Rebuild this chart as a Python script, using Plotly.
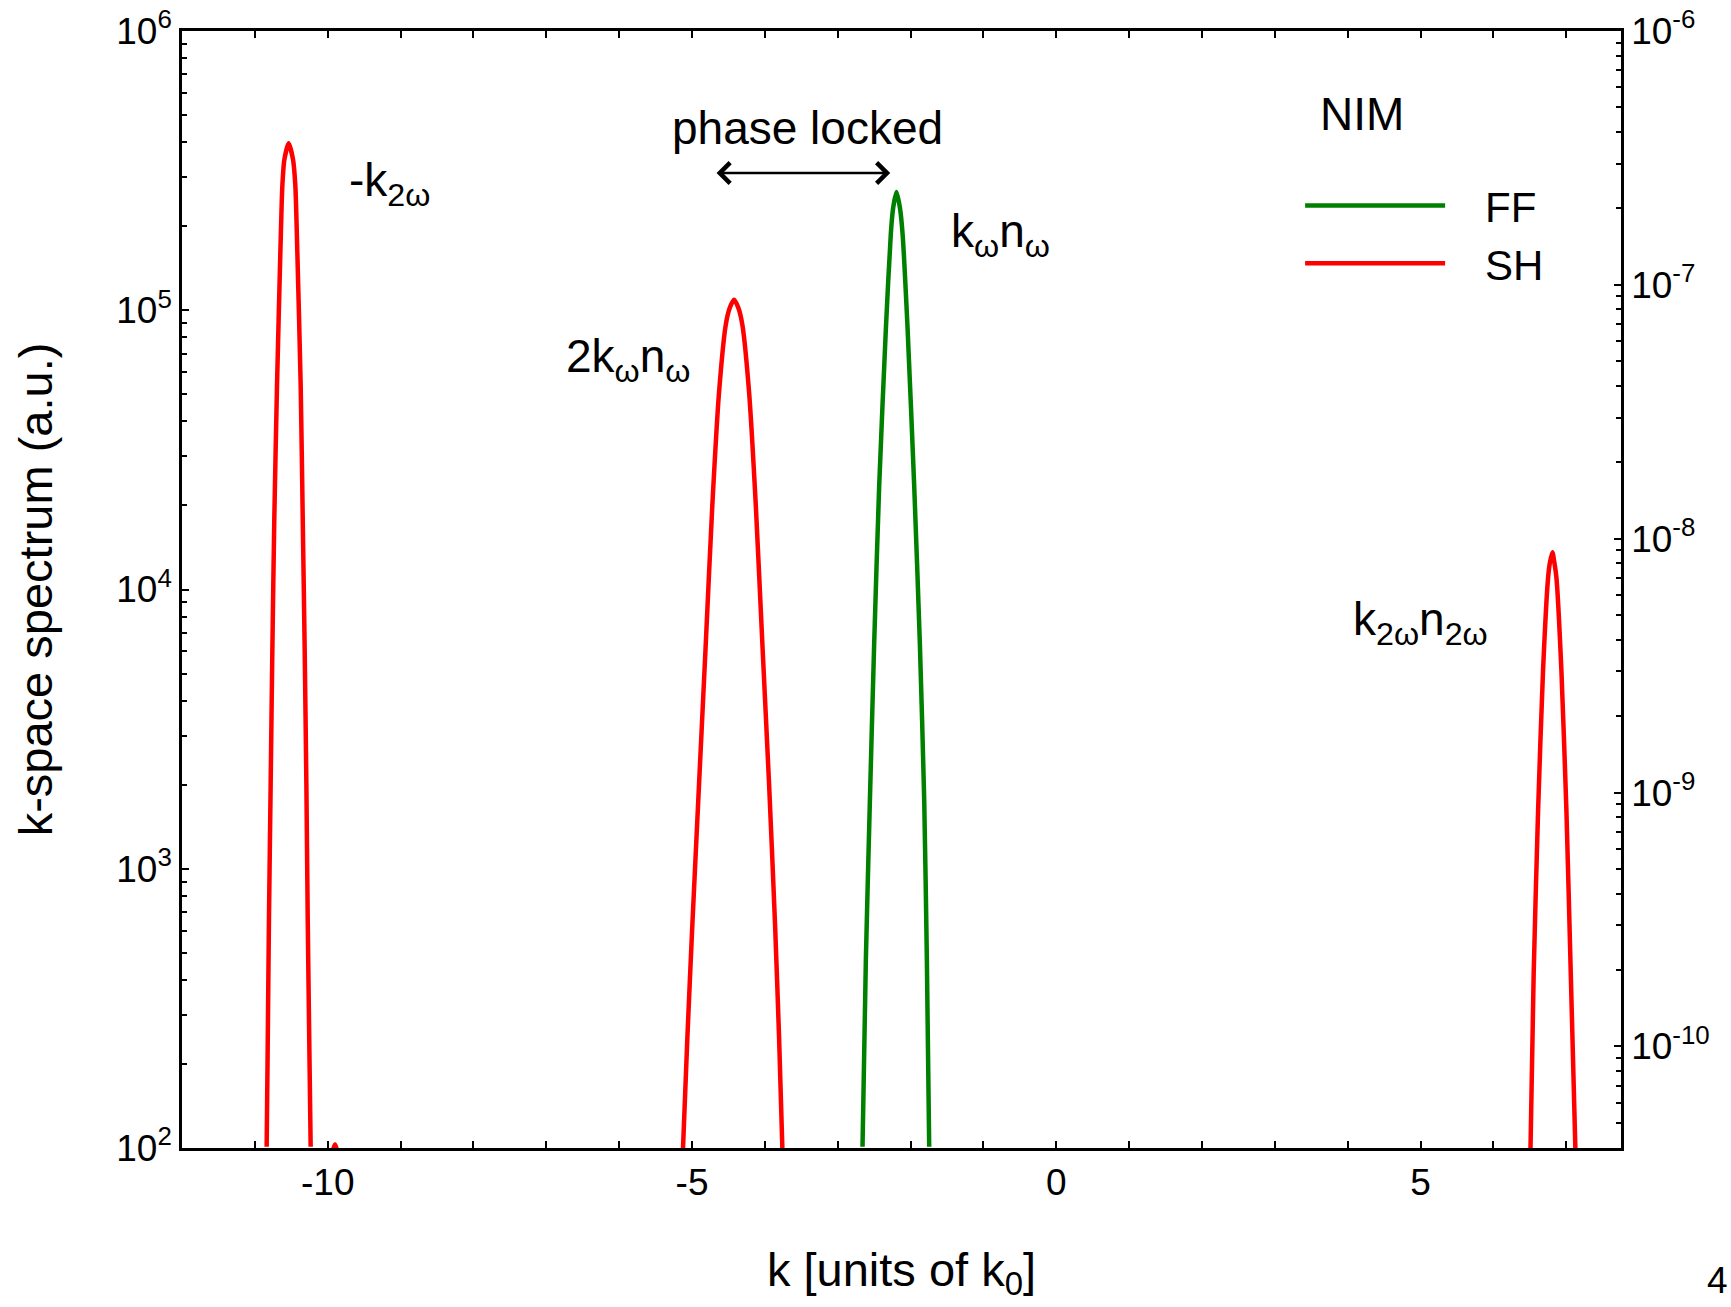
import plotly.graph_objects as go

FONT = "Liberation Sans, Arial, sans-serif"

# ---- data (k in units of k0, spectrum in a.u.) ----
# SH peak at -k_2w
sh1_k = [-10.838, -10.824, -10.806, -10.783, -10.760, -10.733, -10.696, -10.650, -10.623, -10.595,
         -10.536, -10.476, -10.444, -10.417, -10.371, -10.343, -10.316, -10.293, -10.275, -10.252, -10.234]
sh1_y = [101, 227, 678, 2020, 6040, 18000, 53800, 161000, 278000, 346000,
         396000, 346000, 278000, 161000, 53800, 18000, 6040, 2020, 678, 227, 101]
# tiny SH side lobe
sh1b_k = [-9.96, -9.90, -9.84]
sh1b_y = [90, 103, 90]
# SH peak at 2 k_w n_w
sh2_k = [-5.124, -5.064, -4.996, -4.904, -4.812, -4.721, -4.629, -4.537, -4.482,
         -4.423, -4.364, -4.309, -4.217, -4.125, -4.034, -3.942, -3.860, -3.805, -3.760]
sh2_y = [99.5, 248, 627, 2000, 6340, 20100, 50900, 88700, 102000,
         109000, 102000, 88700, 50900, 20100, 6340, 2000, 627, 248, 99.5]
# SH peak at k_2w n_2w
sh3_k = [6.507, 6.552, 6.612, 6.680, 6.749, 6.775, 6.809, 6.835, 6.864, 6.932, 7.001, 7.060, 7.125]
sh3_y = [96.8, 427, 1610, 5130, 11000, 12500, 13600, 12500, 11000, 5130, 1610, 427, 96.8]
# FF peak at k_w n_w
ff_k = [-2.660, -2.614, -2.559, -2.500, -2.431, -2.339, -2.271, -2.239,
        -2.194, -2.147, -2.111, -2.042, -1.951, -1.873, -1.813, -1.777, -1.745]
ff_y = [101, 474, 1750, 6410, 23600, 86500, 189000, 233000,
        265000, 233000, 189000, 86500, 23600, 6410, 1750, 474, 101]

left_ticks = [1e2, 1e3, 1e4, 1e5, 1e6]
left_labels = ["10<sup>2</sup>", "10<sup>3</sup>", "10<sup>4</sup>", "10<sup>5</sup>", "10<sup>6</sup>"]
right_ticks = [1e-10, 1e-9, 1e-8, 1e-7, 1e-6]
right_labels = ["10<sup>-10</sup>", "10<sup>-9</sup>", "10<sup>-8</sup>", "10<sup>-7</sup>", "10<sup>-6</sup>"]
x_ticks = [-10, -5, 0, 5]
x_labels = ["-10", "-5", "0", "5"]

sh_k = sh1_k + [None] + sh1b_k + [None] + sh2_k + [None] + sh3_k
sh_y = sh1_y + [None] + sh1b_y + [None] + sh2_y + [None] + sh3_y

NB = "\u00a0\u00a0\u00a0"

fig = go.Figure()
fig.add_trace(go.Scatter(x=ff_k, y=ff_y, mode="lines", name=NB + "FF",
                         line=dict(color="#008000", width=4.5, shape="spline", smoothing=0.6)))
fig.add_trace(go.Scatter(x=sh_k, y=sh_y, mode="lines", name=NB + "SH", connectgaps=False,
                         line=dict(color="#ff0000", width=4.5, shape="spline", smoothing=0.6)))
# carrier for the right-hand axis
fig.add_trace(go.Scatter(x=[None], y=[None], yaxis="y2", showlegend=False, hoverinfo="skip"))

minor_left = [m * 10 ** e for e in range(2, 6) for m in range(2, 10)]
minor_right = [m * 10.0 ** e for e in range(-11, -6) for m in range(2, 10) if m * 10.0 ** e >= 3.9e-11]

axis_common = dict(showline=True, linecolor="black", linewidth=2.5, showgrid=False, zeroline=False,
                   ticks="inside", ticklen=7, tickwidth=2, tickcolor="black", automargin=False)

fig.update_layout(
    width=1731, height=1307,
    margin=dict(l=182, r=110, t=31, b=159),
    plot_bgcolor="white", paper_bgcolor="white",
    font=dict(family=FONT, size=37, color="black"),
    xaxis=dict(range=[-12, 7.75], tickmode="array", tickvals=x_ticks, ticktext=x_labels,
               mirror="ticks",
               minor=dict(dtick=1, tick0=0, ticks="inside", ticklen=7, tickwidth=2, tickcolor="black"),
               title=dict(text="k [units of k<sub>0</sub>]", font=dict(size=47), standoff=51),
               **axis_common),
    yaxis=dict(type="log", range=[2, 6], tickmode="array", tickvals=left_ticks, ticktext=left_labels,
               minor=dict(tickmode="array", tickvals=minor_left, ticks="inside", ticklen=5,
                          tickwidth=2, tickcolor="black"),
               title=dict(text="k-space spectrum (a.u.)", font=dict(size=47), standoff=49),
               **axis_common),
    yaxis2=dict(type="log", range=[-10.40, -6], overlaying="y", side="right",
                tickmode="array", tickvals=right_ticks, ticktext=right_labels,
                minor=dict(tickmode="array", tickvals=minor_right, ticks="inside", ticklen=5,
                           tickwidth=2, tickcolor="black"),
                **axis_common),
    legend=dict(x=0.777, y=0.874, xanchor="left", yanchor="top", bgcolor="rgba(0,0,0,0)",
                font=dict(size=42), itemwidth=140),
    showlegend=True,
)

ann_font = dict(family=FONT, size=46, color="black")
fig.add_annotation(x=4.20, y=5.703, xref="x", yref="y", text="NIM", showarrow=False, font=ann_font)
fig.add_annotation(x=-3.42, y=5.653, xref="x", yref="y", text="phase locked", showarrow=False,
                   font=ann_font)
fig.add_annotation(x=-2.28, y=5.4915, ax=-4.684, ay=5.4915, xref="x", yref="y", axref="x", ayref="y",
                   text="", showarrow=True, arrowhead=4, startarrowhead=4, arrowside="end+start",
                   arrowwidth=2.5, arrowsize=1.6, startarrowsize=1.6, arrowcolor="black")
fig.add_annotation(x=-9.74, y=5.455, xref="x", yref="y", xanchor="left", showarrow=False,
                   text="-k<sub>2ω</sub>", font=ann_font)
fig.add_annotation(x=-1.47, y=5.272, xref="x", yref="y", xanchor="left", showarrow=False,
                   text="k<sub>ω</sub>n<sub>ω</sub>", font=ann_font)
fig.add_annotation(x=-6.758, y=4.824, xref="x", yref="y", xanchor="left", showarrow=False,
                   text="2k<sub>ω</sub>n<sub>ω</sub>", font=ann_font)
fig.add_annotation(x=4.05, y=3.882, xref="x", yref="y", xanchor="left", showarrow=False,
                   text="k<sub>2ω</sub>n<sub>2ω</sub>", font=ann_font)
fig.add_annotation(x=1.0757, y=-0.139, xref="paper", yref="paper", showarrow=False,
                   text="4", font=dict(family=FONT, size=37, color="black"))

fig.write_html("out.html")
